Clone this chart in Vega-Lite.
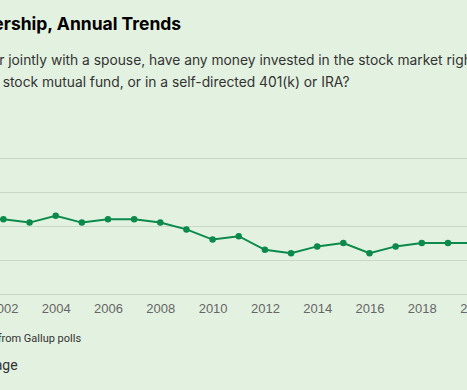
{
  "$schema": "https://vega.github.io/schema/vega-lite/v6.json",
  "autosize": {"type": "none"},
  "width": 549.15,
  "height": 136,
  "padding": {"left": -48.9, "top": 158, "right": -33.25, "bottom": 96},
  "background": "#e3f1e0",
  "title": {
    "text": "U.S. Stock Ownership, Annual Trends",
    "subtitle": [
      "Do you, personally, or jointly with a spouse, have any money invested in the stock market right now -- either in",
      "an individual stock, a stock mutual fund, or in a self-directed 401(k) or IRA?"
    ],
    "anchor": "start",
    "frame": "group",
    "dx": -89,
    "offset": 62,
    "font": "Inter",
    "fontSize": 17.5,
    "fontWeight": "bold",
    "color": "#000000",
    "subtitleFont": "Inter",
    "subtitleFontSize": 13.8,
    "subtitleColor": "#333333",
    "subtitleLineHeight": 22.7,
    "subtitlePadding": 20.5
  },
  "data": {
    "values": [
      {"year": 2001, "pct": 62},
      {"year": 2002, "pct": 62},
      {"year": 2003, "pct": 61},
      {"year": 2004, "pct": 63},
      {"year": 2005, "pct": 61},
      {"year": 2006, "pct": 62},
      {"year": 2007, "pct": 62},
      {"year": 2008, "pct": 61},
      {"year": 2009, "pct": 59},
      {"year": 2010, "pct": 56},
      {"year": 2011, "pct": 57},
      {"year": 2012, "pct": 53},
      {"year": 2013, "pct": 52},
      {"year": 2014, "pct": 54},
      {"year": 2015, "pct": 55},
      {"year": 2016, "pct": 52},
      {"year": 2017, "pct": 54},
      {"year": 2018, "pct": 55},
      {"year": 2019, "pct": 55},
      {"year": 2020, "pct": 55}
    ]
  },
  "mark": {"type": "line", "color": "#0b8a4b", "strokeWidth": 2, "point": {"filled": true, "size": 42, "color": "#0b8a4b", "opacity": 1}},
  "encoding": {
    "x": {
      "field": "year",
      "type": "quantitative",
      "scale": {"domain": [2000, 2021], "nice": false, "zero": false},
      "axis": {
        "values": [2000, 2002, 2004, 2006, 2008, 2010, 2012, 2014, 2016, 2018, 2020],
        "format": "d",
        "grid": false,
        "domain": false,
        "ticks": false,
        "labelPadding": 8,
        "labelFont": "Liberation Sans",
        "labelFontSize": 13,
        "labelColor": "#666666",
        "title": "Annual trends from Gallup polls",
        "titleFont": "Roboto",
        "titleFontSize": 11,
        "titleFontWeight": "normal",
        "titleColor": "#333333",
        "titleAlign": "right",
        "titleAnchor": null,
        "titleBaseline": "alphabetic",
        "titleX": 129.5,
        "titleY": 47
      }
    },
    "y": {
      "field": "pct",
      "type": "quantitative",
      "scale": {"domain": [40, 80], "nice": false, "zero": false},
      "axis": {
        "values": [40, 50, 60, 70, 80],
        "grid": true,
        "gridColor": "#c9d8c6",
        "gridWidth": 1,
        "domain": false,
        "ticks": false,
        "labelColor": "#666666",
        "labelFont": "Liberation Sans",
        "labelFontSize": 13,
        "format": "d",
        "title": "Get the data   Download image",
        "titleFont": "Roboto",
        "titleFontSize": 14,
        "titleFontWeight": "normal",
        "titleColor": "#333333",
        "titleAngle": 0,
        "titleAlign": "right",
        "titleAnchor": null,
        "titleBaseline": "alphabetic",
        "titleX": 66,
        "titleY": 211
      }
    }
  },
  "config": {"view": {"stroke": null}}
}
